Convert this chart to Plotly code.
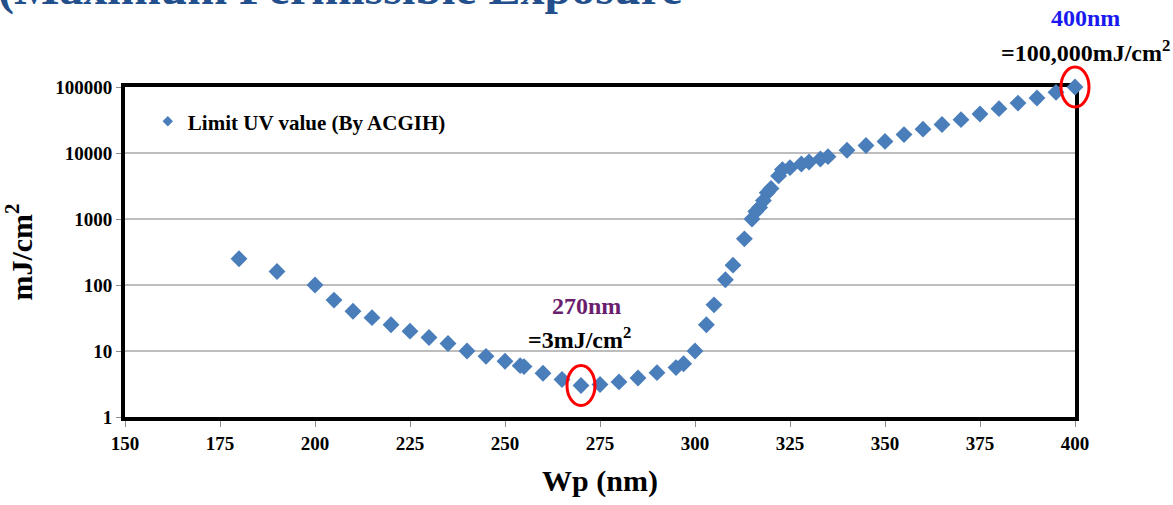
import numpy as np
import plotly.graph_objects as go

wavelength_nm = [180, 190, 200, 205, 210, 215, 220, 225, 230, 235, 240, 245, 250, 254, 255,
                 260, 265, 270, 275, 280, 285, 290, 295, 297, 300, 303, 305, 308, 310, 313,
                 315, 316, 317, 318, 319, 320, 322, 323, 325, 328, 330, 333, 335, 340, 345,
                 350, 355, 360, 365, 370, 375, 380, 385, 390, 395, 400]
limit_mj_cm2 = [250, 160, 100, 59, 40, 32, 25, 20, 16, 13, 10, 8.3, 7.0, 6.0, 5.8,
                4.6, 3.7, 3.0, 3.1, 3.4, 3.9, 4.7, 5.6, 6.4, 10, 25, 50, 120, 200, 500,
                1000, 1300, 1500, 1900, 2500, 2900, 4500, 5600, 6000, 6800, 7300, 8100, 8800, 11000, 13000,
                15000, 19000, 23000, 27000, 32000, 39000, 47000, 57000, 68000, 83000, 100000]
x_ticks = [150, 175, 200, 225, 250, 275, 300, 325, 350, 375, 400]
y_ticks = [1, 10, 100, 1000, 10000, 100000]
y_tick_labels = ["1", "10", "100", "1000", "10000", "100000"]
x_range = [150, 400]
y_log_range = [0, 5]
highlight_idx = [wavelength_nm.index(270), wavelength_nm.index(400)]

FONT = "Liberation Serif"
BLUE = "#4A7EBB"

fig = go.Figure()
fig.add_trace(go.Scatter(
    x=wavelength_nm, y=limit_mj_cm2, mode="markers",
    marker=dict(symbol="diamond", size=13, color=BLUE),
    cliponaxis=False, showlegend=False, name="Limit UV value (By ACGIH)"))
fig.add_trace(go.Scatter(
    x=[None], y=[None], mode="markers",
    marker=dict(symbol="diamond", size=8, color=BLUE),
    name="Limit UV value (By ACGIH)", showlegend=True))

# red ellipses around highlighted points (paper coords so they are not clipped)
for i in highlight_idx:
    px = (wavelength_nm[i] - x_range[0]) / (x_range[1] - x_range[0])
    py = (np.log10(limit_mj_cm2[i]) - y_log_range[0]) / (y_log_range[1] - y_log_range[0])
    fig.add_shape(type="circle", xref="paper", yref="paper",
                  xsizemode="pixel", ysizemode="pixel",
                  xanchor=float(px), yanchor=float(py),
                  x0=-14, x1=14, y0=-20, y1=20,
                  line=dict(color="#FF0000", width=3), layer="above")

i270, i400 = highlight_idx
fig.add_annotation(x=wavelength_nm[i270], y=float(np.log10(limit_mj_cm2[i270])),
                   text="<b>270nm</b>", showarrow=False, yshift=80, xshift=5,
                   font=dict(family=FONT, size=24, color="#6B1E6E"))
fig.add_annotation(x=wavelength_nm[i270], y=float(np.log10(limit_mj_cm2[i270])),
                   text="<b>=3mJ/cm<sup>2</sup></b>", showarrow=False, yshift=48, xshift=-2,
                   font=dict(family=FONT, size=24, color="black"))
fig.add_annotation(x=wavelength_nm[i400], y=float(np.log10(limit_mj_cm2[i400])),
                   text="<b>400nm</b>", showarrow=False, yshift=69, xshift=10,
                   font=dict(family=FONT, size=24, color="#1A1AF0"))
fig.add_annotation(x=wavelength_nm[i400], y=float(np.log10(limit_mj_cm2[i400])),
                   text="<b>=100,000mJ/cm<sup>2</sup></b>", showarrow=False, yshift=36, xshift=10,
                   font=dict(family=FONT, size=24, color="black"))

# partially visible slide title at the very top
fig.add_annotation(xref="paper", yref="paper", x=-0.136, y=1.212,
                   xanchor="left", yanchor="bottom", showarrow=False,
                   text="<b>(Maximum Permissible Exposure</b>",
                   font=dict(family=FONT, size=48, color="#234F8C"))

fig.update_layout(
    width=1173, height=505,
    margin=dict(l=125, r=98, t=87, b=88),
    paper_bgcolor="white", plot_bgcolor="white",
    font=dict(family=FONT, color="black"),
    legend=dict(x=0.024, y=0.895, xanchor="left", yanchor="middle",
                font=dict(family=FONT, size=21, color="black", weight="bold"),
                bgcolor="rgba(0,0,0,0)", itemwidth=30),
    showlegend=True,
)
fig.update_xaxes(
    range=x_range, tickvals=x_ticks, ticktext=[str(v) for v in x_ticks],
    showgrid=False, zeroline=False,
    showline=True, linecolor="black", linewidth=4, mirror=True,
    ticks="outside", ticklen=6, tickcolor="#8C8C8C", tickwidth=1,
    tickfont=dict(family=FONT, size=19, color="black", weight="bold"),
    title=dict(text="<b>Wp (nm)</b>", font=dict(family=FONT, size=30, color="black"), standoff=18),
    layer="below traces", automargin=False,
)
fig.update_yaxes(
    type="log", range=y_log_range, tickvals=y_ticks, ticktext=y_tick_labels,
    showgrid=True, gridcolor="#BDBDBD", gridwidth=2, zeroline=False,
    showline=True, linecolor="black", linewidth=4, mirror=True,
    ticks="outside", ticklen=5, tickcolor="#8C8C8C", tickwidth=1,
    tickfont=dict(family=FONT, size=19, color="black", weight="bold"),
    title=dict(text="<b>mJ/cm<sup>2</sup></b>", font=dict(family=FONT, size=30, color="black"), standoff=20),
    layer="below traces", automargin=False,
)

fig.write_html("out.html", config={"displayModeBar": False},
               post_script="document.body.style.margin='0px';document.body.style.overflow='hidden';")
